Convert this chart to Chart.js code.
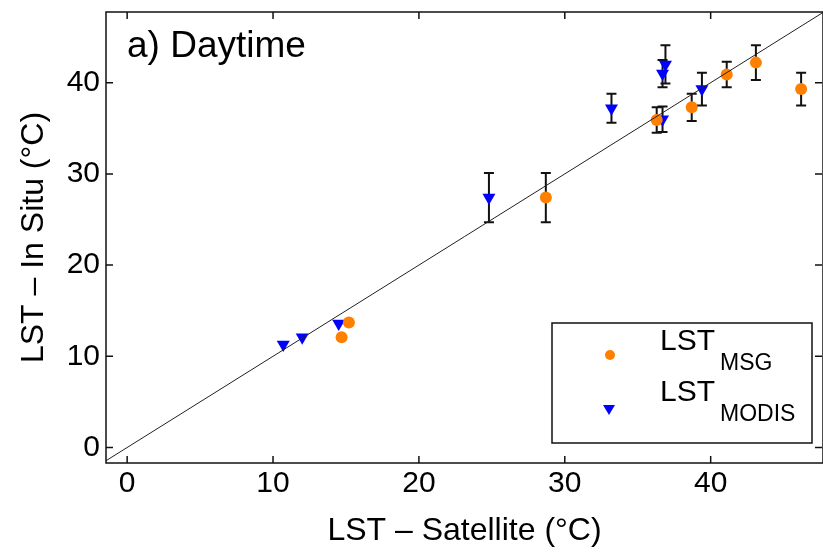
<!DOCTYPE html>
<html lang="en">
<head>
    <meta charset="UTF-8">
    <title>a) Daytime</title>
    <script src="https://cdn.jsdelivr.net/npm/chart.js"></script>
    <style>
        html, body { margin: 0; padding: 0; background: #fff; }
        #wrap { width: 823px; height: 553px; }
    </style>
</head>
<body>
    <div id="wrap"><canvas id="lst-chart"></canvas></div>

    <script>
        // MSG points (satellite vs in situ, deg C)
        const msgX = [14.7, 15.2, 28.7, 36.3, 38.7, 41.1, 43.1, 46.2];
        const msgY = [12.1, 13.7, 27.4, 35.9, 37.3, 40.9, 42.2, 39.3];
        const msgErr = [0, 0, 2.7, 1.4, 1.5, 1.4, 1.9, 1.8];

        // MODIS points
        const modisX = [10.7, 12.0, 14.5, 24.8, 33.2, 36.7, 36.7, 36.9, 39.4];
        const modisY = [11.3, 12.1, 13.6, 27.4, 37.2, 36.0, 41.0, 42.0, 39.3];
        const modisErr = [0, 0, 0, 2.7, 1.6, 1.4, 1.5, 2.1, 1.8];

        // 1:1 line
        const lineX = [-3, 50];

        const tickVals = [0, 10, 20, 30, 40];
        const FONT = "'Liberation Sans', Arial, sans-serif";

        function toPoints(xs, ys) {
            return xs.map((x, i) => ({ x: x, y: ys[i] }));
        }

        // error bars, drawn under the markers
        const errorBars = {
            id: 'errorBars',
            beforeDatasetsDraw(chart) {
                const ctx = chart.ctx;
                const xs = chart.scales.x, ys = chart.scales.y;
                ctx.save();
                ctx.strokeStyle = '#111';
                ctx.lineWidth = 2;
                chart.data.datasets.forEach(ds => {
                    if (!ds.err) return;
                    ds.data.forEach((p, i) => {
                        const e = ds.err[i];
                        if (!e) return;
                        const px = xs.getPixelForValue(p.x);
                        const top = ys.getPixelForValue(p.y + e);
                        const bot = ys.getPixelForValue(p.y - e);
                        ctx.beginPath();
                        ctx.moveTo(px, top); ctx.lineTo(px, bot);
                        ctx.moveTo(px - 5, top); ctx.lineTo(px + 5, top);
                        ctx.moveTo(px - 5, bot); ctx.lineTo(px + 5, bot);
                        ctx.stroke();
                    });
                });
                ctx.restore();
            }
        };

        // frame with inward ticks on all four sides, panel label, legend
        const decorations = {
            id: 'decorations',
            afterDraw(chart) {
                const ctx = chart.ctx;
                const a = chart.chartArea;
                const xs = chart.scales.x, ys = chart.scales.y;
                ctx.save();
                ctx.strokeStyle = '#111';
                ctx.lineWidth = 1.5;
                ctx.strokeRect(a.left, a.top, a.right - a.left, a.bottom - a.top);
                ctx.beginPath();
                tickVals.forEach(v => {
                    const px = xs.getPixelForValue(v);
                    ctx.moveTo(px, a.bottom); ctx.lineTo(px, a.bottom - 7);
                    ctx.moveTo(px, a.top); ctx.lineTo(px, a.top + 7);
                    const py = ys.getPixelForValue(v);
                    ctx.moveTo(a.left, py); ctx.lineTo(a.left + 7, py);
                    ctx.moveTo(a.right - 1, py); ctx.lineTo(a.right - 8, py);
                });
                ctx.stroke();

                // panel label
                ctx.fillStyle = '#000';
                ctx.font = '37px ' + FONT;
                ctx.textBaseline = 'middle';
                ctx.textAlign = 'left';
                ctx.fillText('a) Daytime', 127, 47);

                // legend box
                ctx.lineWidth = 1.5;
                ctx.fillStyle = '#fff';
                ctx.fillRect(552, 323, 260, 120);
                ctx.strokeRect(552, 323, 260, 120);
                const items = [
                    { sub: 'MSG', y: 342, my: 355, color: '#ff8000', shape: 'circle' },
                    { sub: 'MODIS', y: 393, my: 410, color: '#0000ff', shape: 'tri' }
                ];
                items.forEach(it => {
                    ctx.fillStyle = it.color;
                    ctx.beginPath();
                    if (it.shape === 'circle') {
                        ctx.arc(610, it.my, 5, 0, Math.PI * 2);
                    } else {
                        ctx.moveTo(603, it.my - 5);
                        ctx.lineTo(615, it.my - 5);
                        ctx.lineTo(609, it.my + 5);
                        ctx.closePath();
                    }
                    ctx.fill();
                    ctx.fillStyle = '#000';
                    ctx.textAlign = 'left';
                    ctx.textBaseline = 'middle';
                    ctx.font = '30px ' + FONT;
                    ctx.fillText('LST', 660, it.y);
                    const w = ctx.measureText('LST').width;
                    ctx.font = '23px ' + FONT;
                    ctx.fillText(it.sub, 660 + w + 5, it.y + 22);
                });
                ctx.restore();
            }
        };

        const ctx = document.getElementById('lst-chart').getContext('2d');
        new Chart(ctx, {
            type: 'scatter',
            data: {
                datasets: [
                    {
                        type: 'line',
                        label: '1:1',
                        data: toPoints(lineX, lineX),
                        borderColor: '#222',
                        borderWidth: 1,
                        pointRadius: 0,
                        fill: false
                    },
                    {
                        label: 'LST MSG',
                        data: toPoints(msgX, msgY),
                        err: msgErr,
                        pointStyle: 'circle',
                        pointRadius: 6,
                        backgroundColor: '#ff8000',
                        borderColor: '#ff8000',
                        borderWidth: 0
                    },
                    {
                        label: 'LST MODIS',
                        data: toPoints(modisX, modisY),
                        err: modisErr,
                        pointStyle: 'triangle',
                        rotation: 180,
                        pointRadius: 7.5,
                        backgroundColor: '#0000ff',
                        borderColor: '#0000ff',
                        borderWidth: 0
                    }
                ]
            },
            options: {
                responsive: true,
                maintainAspectRatio: false,
                animation: false,
                layout: { autoPadding: false, padding: { top: 12, right: -2, left: 0, bottom: 0 } },
                plugins: {
                    legend: { display: false },
                    tooltip: { enabled: false }
                },
                scales: {
                    x: {
                        type: 'linear',
                        min: -1.45,
                        max: 47.7,
                        afterBuildTicks: s => { s.ticks = tickVals.map(v => ({ value: v })); },
                        afterFit: s => { s.height = 90; s.paddingLeft = 0; s.paddingRight = 0; },
                        grid: { display: false, drawTicks: false },
                        border: { display: false },
                        ticks: {
                            color: '#000',
                            padding: 3,
                            maxRotation: 0,
                            font: { family: FONT, size: 30 }
                        },
                        title: {
                            display: true,
                            text: 'LST – Satellite (°C)',
                            color: '#000',
                            font: { family: FONT, size: 32 },
                            padding: { top: 0, bottom: 3 }
                        }
                    },
                    y: {
                        type: 'linear',
                        min: -1.7,
                        max: 47.75,
                        afterBuildTicks: s => { s.ticks = tickVals.map(v => ({ value: v })); },
                        afterFit: s => { s.width = 106; s.paddingTop = 0; s.paddingBottom = 0; },
                        grid: { display: false, drawTicks: false },
                        border: { display: false },
                        ticks: {
                            color: '#000',
                            padding: 6,
                            font: { family: FONT, size: 30 }
                        },
                        title: {
                            display: true,
                            text: 'LST – In Situ (°C)',
                            color: '#000',
                            font: { family: FONT, size: 32 },
                            padding: { top: 15, bottom: 0 }
                        }
                    }
                }
            },
            plugins: [errorBars, decorations]
        });
    </script>
</body>
</html>
